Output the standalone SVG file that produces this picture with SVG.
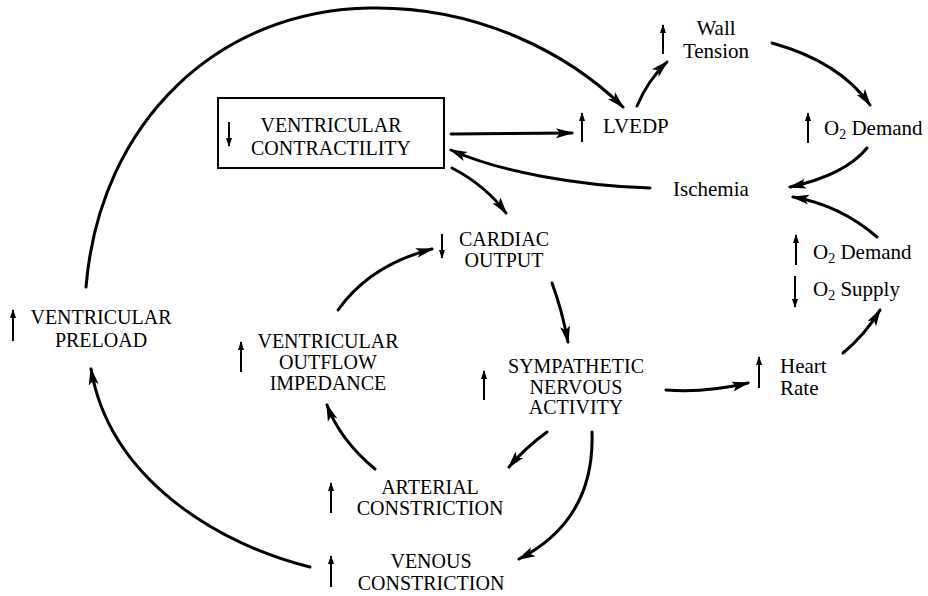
<svg xmlns="http://www.w3.org/2000/svg" width="928" height="596" viewBox="0 0 928 596">
<defs>
<marker id="ah" markerUnits="userSpaceOnUse" markerWidth="20" markerHeight="12" refX="16" refY="0" orient="auto" viewBox="0 -6 20 12" overflow="visible">
<path d="M0,-5 L18,0 L0,5 L4,0 z" fill="#000"/>
</marker>
<marker id="sm" markerUnits="userSpaceOnUse" markerWidth="10" markerHeight="8" refX="8" refY="0" orient="auto" viewBox="0 -4 10 8" overflow="visible">
<path d="M0,-3 L9,0 L0,3 z" fill="#000"/>
</marker>
</defs>
<style>
text{font-family:"Liberation Serif","Times New Roman",serif;fill:#000}
.c{font-size:20px;text-anchor:middle}
.l{font-size:21px}
.conn path{fill:none;stroke:#000;stroke-width:3;stroke-linecap:round;marker-end:url(#ah)}
.ind{stroke:#000;stroke-width:2;marker-end:url(#sm)}
.box{fill:none;stroke:#000;stroke-width:2}
</style>
<rect width="928" height="596" fill="#fff"/>

<g class="conn" id="connectors">
<path d="M86,287 C100,120 220,10 370,8 C480,6 570,55 623,107"/>
<path d="M451,134 L572,133"/>
<path d="M637,106 Q648,80 667,62"/>
<path d="M772,43 Q840,62 870,105"/>
<path d="M867,148 Q845,175 790,187"/>
<path d="M650,188 C580,186 500,172 451,150"/>
<path d="M877,237 Q840,205 793,197"/>
<path d="M452,168 Q485,185 506,213"/>
<path d="M552,283 Q562,310 568,342"/>
<path d="M666,390 Q705,393 748,383"/>
<path d="M843,353 Q865,335 880,310"/>
<path d="M547,432 Q525,448 509,467"/>
<path d="M592,432 Q595,520 519,559"/>
<path d="M375,469 Q340,440 327,405"/>
<path d="M338,310 Q370,265 432,249"/>
<path d="M310,567 C220,545 110,480 91,369"/>
</g>

<g id="contractility">
<rect class="box" x="218" y="98" width="226" height="70"/>
<line class="ind" x1="229" y1="122" x2="229" y2="146"/>
<text class="c" x="331" y="132">VENTRICULAR</text>
<text class="c" x="331" y="155">CONTRACTILITY</text>
</g>

<g id="lvedp">
<line class="ind" x1="582" y1="142" x2="582" y2="113"/>
<text class="l" x="603" y="133">LVEDP</text>
</g>

<g id="walltension">
<line class="ind" x1="663" y1="54" x2="663" y2="25"/>
<text class="l" x="716" y="35" text-anchor="middle" font-size="20">Wall</text>
<text class="l" x="716" y="58" text-anchor="middle" font-size="20">Tension</text>
</g>

<g id="o2demand1">
<line class="ind" x1="808" y1="143" x2="808" y2="113"/>
<text class="l" x="824" y="135">O<tspan font-size="14" dy="4">2</tspan><tspan dy="-4"> Demand</tspan></text>
</g>

<g id="ischemia">
<text class="l" x="673" y="196">Ischemia</text>
</g>

<g id="o2demand2">
<line class="ind" x1="796" y1="265" x2="796" y2="235"/>
<text class="l" x="813" y="259">O<tspan font-size="14" dy="4">2</tspan><tspan dy="-4"> Demand</tspan></text>
</g>

<g id="o2supply">
<line class="ind" x1="795" y1="276" x2="795" y2="307"/>
<text class="l" x="813" y="296">O<tspan font-size="14" dy="4">2</tspan><tspan dy="-4"> Supply</tspan></text>
</g>

<g id="heartrate">
<line class="ind" x1="759" y1="388" x2="759" y2="357"/>
<text class="l" x="780" y="373">Heart</text>
<text class="l" x="780" y="395">Rate</text>
</g>

<g id="cardiacoutput">
<line class="ind" x1="442" y1="234" x2="442" y2="258"/>
<text class="c" x="504" y="246">CARDIAC</text>
<text class="c" x="504" y="267">OUTPUT</text>
</g>

<g id="sympathetic">
<line class="ind" x1="484" y1="400" x2="484" y2="371"/>
<text class="c" x="576" y="373">SYMPATHETIC</text>
<text class="c" x="576" y="394">NERVOUS</text>
<text class="c" x="576" y="414">ACTIVITY</text>
</g>

<g id="preload">
<line class="ind" x1="13" y1="341" x2="13" y2="310"/>
<text class="c" x="101" y="324">VENTRICULAR</text>
<text class="c" x="101" y="347">PRELOAD</text>
</g>

<g id="outflow">
<line class="ind" x1="241" y1="372" x2="241" y2="342"/>
<text class="c" x="328" y="348">VENTRICULAR</text>
<text class="c" x="328" y="369">OUTFLOW</text>
<text class="c" x="328" y="390">IMPEDANCE</text>
</g>

<g id="arterial">
<line class="ind" x1="331" y1="513" x2="331" y2="483"/>
<text class="c" x="430" y="494">ARTERIAL</text>
<text class="c" x="430" y="515">CONSTRICTION</text>
</g>

<g id="venous">
<line class="ind" x1="331" y1="587" x2="331" y2="556"/>
<text class="c" x="431" y="568">VENOUS</text>
<text class="c" x="431" y="590">CONSTRICTION</text>
</g>
</svg>
